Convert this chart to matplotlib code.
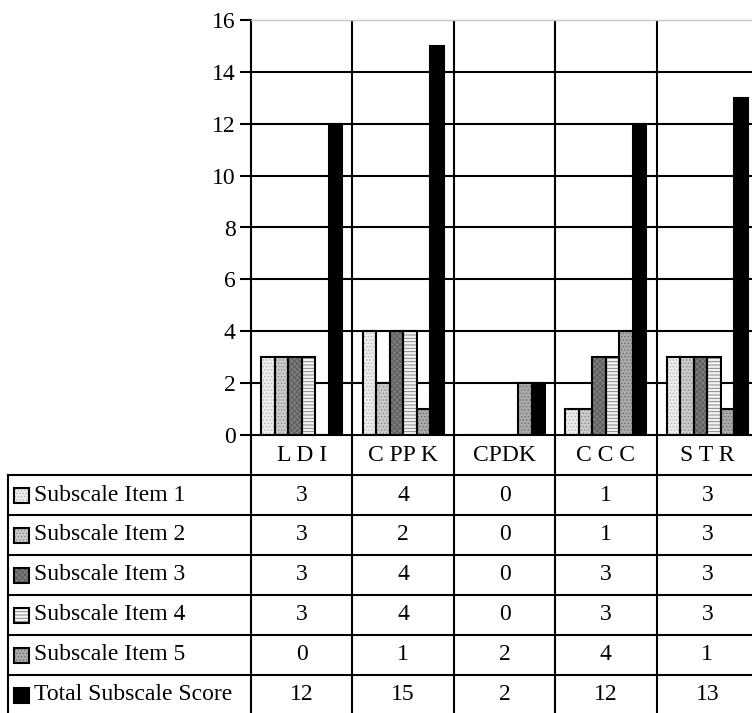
import matplotlib
matplotlib.use('Agg')
import matplotlib.pyplot as plt
from matplotlib.patches import Rectangle
import numpy as np

# data
categories = ['L D I', 'C PP K', 'CPDK', 'C C C', 'S T R']
series_names = ['Subscale Item 1', 'Subscale Item 2', 'Subscale Item 3',
                'Subscale Item 4', 'Subscale Item 5', 'Total Subscale Score']
item1 = [3, 4, 0, 1, 3]
item2 = [3, 2, 0, 1, 3]
item3 = [3, 4, 0, 3, 3]
item4 = [3, 4, 0, 3, 3]
item5 = [0, 1, 2, 4, 1]
total = [12, 15, 2, 12, 13]
series = [item1, item2, item3, item4, item5, total]
yticks = list(range(0, 17, 2))

# face colour, hatch, hatch colour for each series
styles = [
    ('#ededed', '.....', '#b4b4b4'),
    ('#cacaca', '.....', '#8c8c8c'),
    ('#7c7c7c', 'xxxxxx', '#5a5a5a'),
    ('#f2f2f2', '-----', '#7a7a7a'),
    ('#ababab', '.....', '#6e6e6e'),
    ('#000000', None, '#000000'),
]

plt.rcParams['font.family'] = ['Liberation Serif', 'DejaVu Serif']
plt.rcParams['hatch.linewidth'] = 0.6
FS = 17

W, H = 752, 713
fig = plt.figure(figsize=(W / 100, H / 100), dpi=100)

n = len(categories)
left_px, right_px, top_px, zero_px = 251, 758, 20, 435
cat_px = (right_px - left_px) / n

ax = fig.add_axes([left_px / W, 1 - zero_px / H, (right_px - left_px) / W, (zero_px - top_px) / H])
ax.set_xlim(-0.5, n - 0.5)
ax.set_ylim(yticks[0], yticks[-1])

x = np.arange(n)
group = 0.8
bw = group / len(series)
for j, (vals, (face, hatch, hc)) in enumerate(zip(series, styles)):
    pos = x - group / 2 + (j + 0.5) * bw
    ax.bar(pos, vals, bw, color=face, hatch=hatch, edgecolor=hc, linewidth=0, zorder=3)
    ax.bar(pos, vals, bw, fill=False, edgecolor='black', linewidth=1.5, zorder=4)

for t in yticks[1:-1]:
    ax.axhline(t, color='black', lw=1.5, zorder=1)
bounds = np.arange(n - 1) + 0.5
for b in bounds:
    ax.axvline(b, color='black', lw=1.5, zorder=1)

ax.set_yticks(yticks)
ax.set_xticks([])
ax.tick_params(axis='y', labelsize=FS, length=8, width=1.5, direction='out', pad=3)
ax.spines['left'].set_linewidth(1.5)
ax.spines['bottom'].set_linewidth(1.5)
ax.spines['right'].set_visible(False)
ax.spines['top'].set_color('#c8c8c8')
ax.spines['top'].set_linewidth(1.0)

# data table under the plot, in category units horizontally and row units vertically
nrows = len(series) + 1
row_px = 40
tax = fig.add_axes([0, 1 - (zero_px + nrows * row_px) / H, right_px / W, nrows * row_px / H])
x0 = -0.5 - left_px / cat_px
tax.set_xlim(x0, n - 0.5)
tax.set_ylim(nrows, 0)
tax.axis('off')

border_x = x0 + 8 / cat_px
lk = dict(color='black', lw=1.5, clip_on=False, solid_capstyle='projecting')
for r in range(1, nrows):
    tax.plot([border_x, n - 0.5], [r, r], **lk)
tax.plot([border_x, border_x], [1, nrows], **lk)
for b in np.concatenate([[-0.5], bounds]):
    tax.plot([b, b], [0, nrows], **lk)

for i, c in enumerate(categories):
    tax.text(i, 0.5, c, ha='center', va='center', fontsize=FS)

sw = 15 / cat_px
sh = 15 / row_px
for r, (name, vals, (face, hatch, hc)) in enumerate(zip(series_names, series, styles)):
    yc = r + 1.5
    sx = x0 + 14 / cat_px
    tax.add_patch(Rectangle((sx, yc - sh / 2), sw, sh, facecolor=face, hatch=hatch,
                            edgecolor=hc, linewidth=0, clip_on=False))
    tax.add_patch(Rectangle((sx, yc - sh / 2), sw, sh, fill=False,
                            edgecolor='black', linewidth=1.5, clip_on=False))
    tax.text(x0 + 34 / cat_px, yc, name, ha='left', va='center', fontsize=FS)
    for i, v in enumerate(vals):
        tax.text(i, yc, str(v), ha='center', va='center', fontsize=FS)

plt.savefig('out.png', dpi=100)
plt.close()
